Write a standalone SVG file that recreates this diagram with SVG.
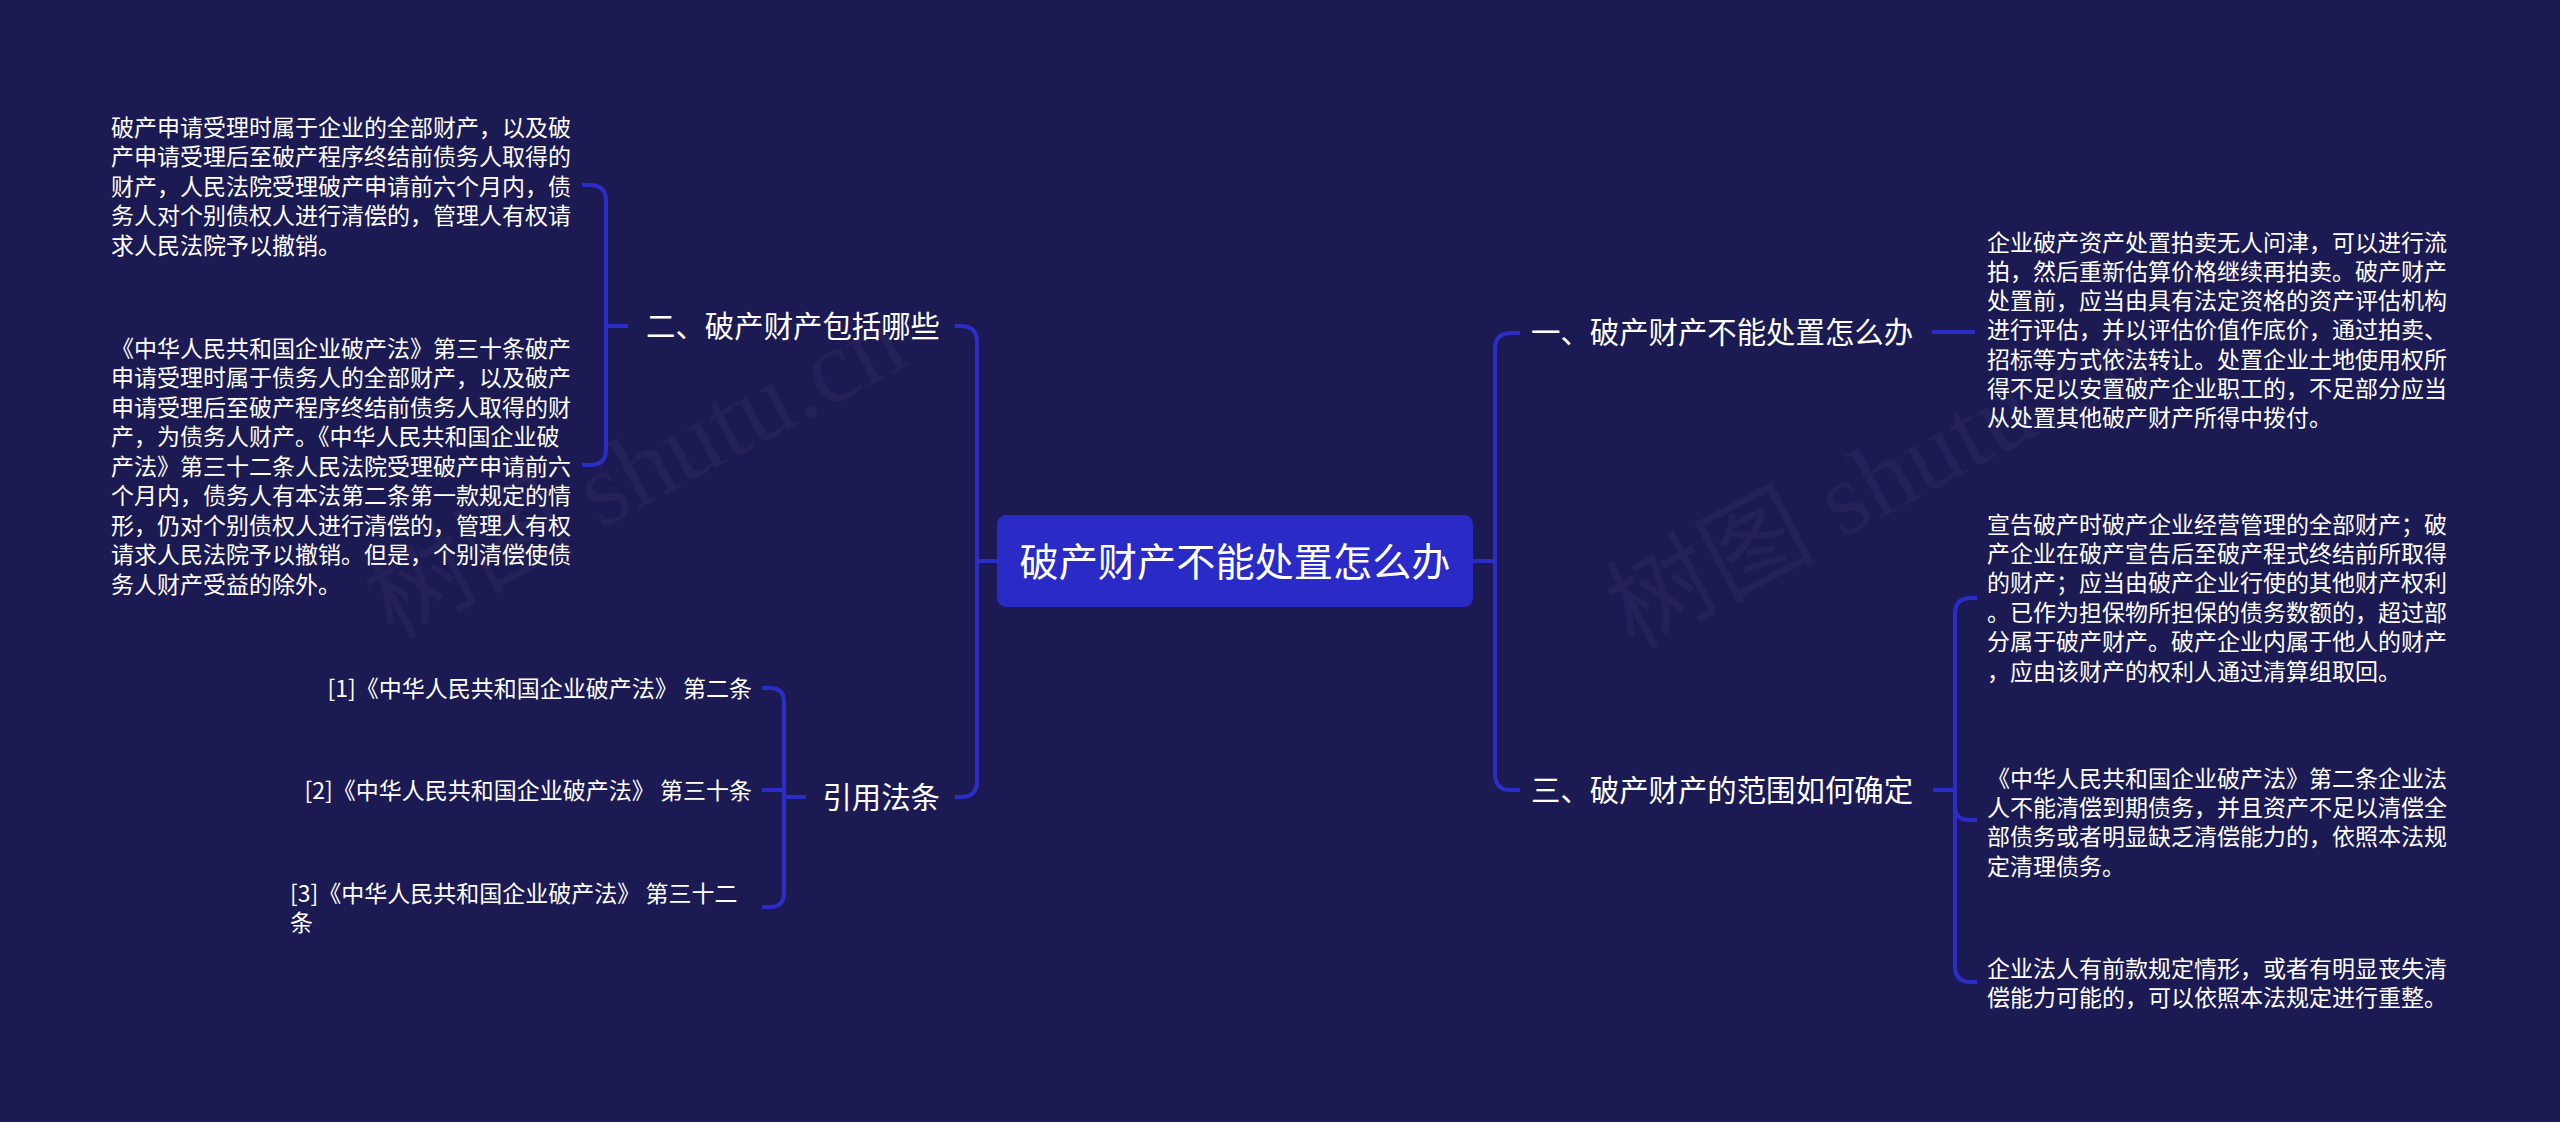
<svg xmlns="http://www.w3.org/2000/svg" width="2560" height="1122" viewBox="0 0 2560 1122">
<style>
.bg{fill:#1c1a52}
.wm{font-family:"Liberation Serif","Noto Sans CJK SC",serif;font-size:105px;fill:#ffffff;fill-opacity:0.03}
.t{font-family:"Noto Sans CJK SC","Noto Sans",sans-serif;fill:#ffffff}
.leaf{font-size:23px}
.br{font-size:29.4px}
.root{font-size:39.2px}
.c{fill:none;stroke:#2c2cc6;stroke-width:4;stroke-linecap:butt;stroke-linejoin:round}
</style>
<rect class="bg" x="0" y="0" width="2560" height="1122"/>
<text class="wm" transform="translate(392,640) rotate(-28)">树图 shutu.cn</text>
<text class="wm" transform="translate(1633,650) rotate(-28)">树图 shutu.cn</text>

<g id="connectors">
<path class="c" d="M1473 561 H1495 V349 Q1495 333 1511 333 H1520"/>
<path class="c" d="M1473 561 H1495 V774 Q1495 790 1511 790 H1520"/>
<path class="c" d="M997 561 H977 V342 Q977 326 961 326 H955"/>
<path class="c" d="M997 561 H977 V781 Q977 797 961 797 H955"/>
<path class="c" d="M628 326 H606 V201 Q606 185 590 185 H582"/>
<path class="c" d="M628 326 H606 V449 Q606 465 590 465 H582"/>
<path class="c" d="M806 797 H784 V702 Q784 688 770 688 H762"/>
<path class="c" d="M806 797 H784 V790 H762"/>
<path class="c" d="M806 797 H784 V893 Q784 907 770 907 H762"/>
<path class="c" d="M1932 332 H1975"/>
<path class="c" d="M1933 790 H1955 V614 Q1955 598 1971 598 H1977"/>
<path class="c" d="M1933 790 H1955 V806 Q1955 820 1969 820 H1977"/>
<path class="c" d="M1933 790 H1955 V966 Q1955 982 1971 982 H1977"/>
</g>

<g id="root">
<rect x="997" y="515" width="476" height="92" rx="9" fill="#2a2ac6"/>
<text class="t root" x="1235" y="576" text-anchor="middle">破产财产不能处置怎么办</text>
</g>

<g id="b1">
<text class="t br" x="1531" y="343">一、破产财产不能处置怎么办</text>
</g>
<g id="b2">
<text class="t br" x="940" y="337" text-anchor="end">二、破产财产包括哪些</text>
</g>
<g id="b3">
<text class="t br" x="1531" y="801">三、破产财产的范围如何确定</text>
</g>
<g id="b4">
<text class="t br" x="940" y="808" text-anchor="end">引用法条</text>
</g>

<g id="leaf-b1">
<text class="t leaf" x="1987">
<tspan x="1987" y="250.5">企业破产资产处置拍卖无人问津，可以进行流</tspan>
<tspan x="1987" y="279.8">拍，然后重新估算价格继续再拍卖。破产财产</tspan>
<tspan x="1987" y="309.1">处置前，应当由具有法定资格的资产评估机构</tspan>
<tspan x="1987" y="338.4">进行评估，并以评估价值作底价，通过拍卖、</tspan>
<tspan x="1987" y="367.7">招标等方式依法转让。处置企业土地使用权所</tspan>
<tspan x="1987" y="397.0">得不足以安置破产企业职工的，不足部分应当</tspan>
<tspan x="1987" y="426.3">从处置其他破产财产所得中拨付。</tspan>
</text>
</g>

<g id="leaf-b2-1">
<text class="t leaf">
<tspan x="111" y="135.5">破产申请受理时属于企业的全部财产，以及破</tspan>
<tspan x="111" y="165.0">产申请受理后至破产程序终结前债务人取得的</tspan>
<tspan x="111" y="194.5">财产，人民法院受理破产申请前六个月内，债</tspan>
<tspan x="111" y="224.0">务人对个别债权人进行清偿的，管理人有权请</tspan>
<tspan x="111" y="253.5">求人民法院予以撤销。</tspan>
</text>
</g>

<g id="leaf-b2-2">
<text class="t leaf">
<tspan x="111" y="356.5">《中华人民共和国企业破产法》第三十条破产</tspan>
<tspan x="111" y="386.0">申请受理时属于债务人的全部财产，以及破产</tspan>
<tspan x="111" y="415.5">申请受理后至破产程序终结前债务人取得的财</tspan>
<tspan x="111" y="445.0">产，为债务人财产。《中华人民共和国企业破</tspan>
<tspan x="111" y="474.5">产法》第三十二条人民法院受理破产申请前六</tspan>
<tspan x="111" y="504.0">个月内，债务人有本法第二条第一款规定的情</tspan>
<tspan x="111" y="533.5">形，仍对个别债权人进行清偿的，管理人有权</tspan>
<tspan x="111" y="563.0">请求人民法院予以撤销。但是，个别清偿使债</tspan>
<tspan x="111" y="592.5">务人财产受益的除外。</tspan>
</text>
</g>

<g id="leaf-b3-1">
<text class="t leaf">
<tspan x="1987" y="532.5">宣告破产时破产企业经营管理的全部财产；破</tspan>
<tspan x="1987" y="561.9">产企业在破产宣告后至破产程式终结前所取得</tspan>
<tspan x="1987" y="591.3">的财产；应当由破产企业行使的其他财产权利</tspan>
<tspan x="1987" y="620.7">。已作为担保物所担保的债务数额的，超过部</tspan>
<tspan x="1987" y="650.1">分属于破产财产。破产企业内属于他人的财产</tspan>
<tspan x="1987" y="679.5">，应由该财产的权利人通过清算组取回。</tspan>
</text>
</g>

<g id="leaf-b3-2">
<text class="t leaf">
<tspan x="1987" y="786.5">《中华人民共和国企业破产法》第二条企业法</tspan>
<tspan x="1987" y="815.9">人不能清偿到期债务，并且资产不足以清偿全</tspan>
<tspan x="1987" y="845.3">部债务或者明显缺乏清偿能力的，依照本法规</tspan>
<tspan x="1987" y="874.7">定清理债务。</tspan>
</text>
</g>

<g id="leaf-b3-3">
<text class="t leaf">
<tspan x="1987" y="976.5">企业法人有前款规定情形，或者有明显丧失清</tspan>
<tspan x="1987" y="1005.9">偿能力可能的，可以依照本法规定进行重整。</tspan>
</text>
</g>

<g id="ref-1">
<text class="t leaf" x="752" y="696.5" text-anchor="end">[1]《中华人民共和国企业破产法》 第二条</text>
</g>
<g id="ref-2">
<text class="t leaf" x="752" y="798.5" text-anchor="end">[2]《中华人民共和国企业破产法》 第三十条</text>
</g>
<g id="ref-3">
<text class="t leaf">
<tspan x="290" y="901.5">[3]《中华人民共和国企业破产法》 第三十二</tspan>
<tspan x="290" y="930.9">条</tspan>
</text>
</g>
</svg>
